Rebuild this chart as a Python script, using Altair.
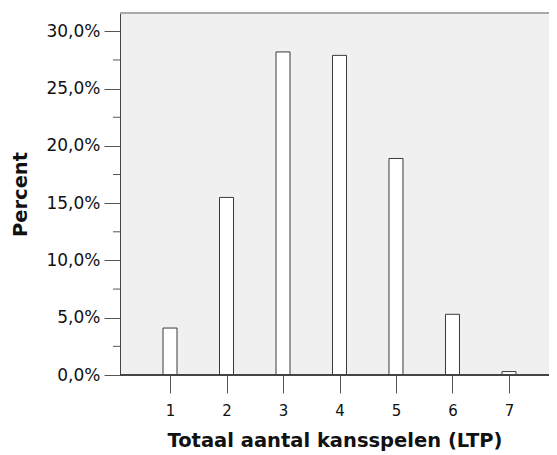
import altair as alt
import pandas as pd

categories = [1, 2, 3, 4, 5, 6, 7]
percents = [4.1, 15.5, 28.2, 27.9, 18.9, 5.3, 0.3]
major_ticks = [0, 5, 10, 15, 20, 25, 30]
minor_ticks = [2.5, 7.5, 12.5, 17.5, 22.5, 27.5]

df = pd.DataFrame({"cat": categories, "pct": percents})
df_minor = pd.DataFrame({"v": minor_ticks})

FONT = "DejaVu Sans"
W, H = 429, 362
xscale = alt.Scale(domain=[0.115, 7.708], nice=False, zero=False, padding=0)
yscale = alt.Scale(domain=[0, 31.6], nice=False, padding=0)

bars = alt.Chart(df).mark_bar(
    fill="white", stroke="#3a3a3a", strokeWidth=1, width=14
).encode(
    x=alt.X("cat:Q", scale=xscale, axis=alt.Axis(
        values=categories, format="d", tickSize=18, tickColor="#555",
        domain=False, grid=False, labelFontSize=15, labelPadding=10,
        labelColor="#111", labelFont=FONT,
        title="Totaal aantal kansspelen (LTP)", titleFontSize=19.5,
        titleFont=FONT, titleFontWeight="bold", titlePadding=13,
        titleColor="#111")),
    y=alt.Y("pct:Q", scale=yscale, axis=alt.Axis(
        values=major_ticks, tickSize=16, tickColor="#555",
        domainColor="#444", grid=False, labelFontSize=17, labelPadding=4,
        labelColor="#111", labelFont=FONT,
        labelExpr="replace(format(datum.value, '.1f'), '.', ',') + '%'",
        title="Percent", titleFontSize=19.5, titleFont=FONT,
        titleFontWeight="bold", titlePadding=15, titleColor="#111")),
)

baseline = alt.Chart(df).mark_rule(color="#444", strokeWidth=1).encode(
    x=alt.value(0), x2=alt.value(W), y=alt.value(H)
)

topline = alt.Chart(df).mark_rule(color="#a8a8a8", strokeWidth=1).encode(
    x=alt.value(0), x2=alt.value(W), y=alt.value(0)
)

minor = alt.Chart(df_minor).mark_rule(color="#555", strokeWidth=1).encode(
    y=alt.Y("v:Q", scale=yscale), x=alt.value(-7), x2=alt.value(0)
)

chart = alt.layer(bars, baseline, topline, minor).properties(
    width=W, height=H,
    autosize=alt.AutoSizeParams(type="none"),
    padding={"left": 112, "top": 5, "right": 0, "bottom": 80},
    background="white",
).configure_view(
    fill="#f0f0f0", strokeWidth=0
)

chart.save("out.html", embed_options={"renderer": "svg", "actions": False})
